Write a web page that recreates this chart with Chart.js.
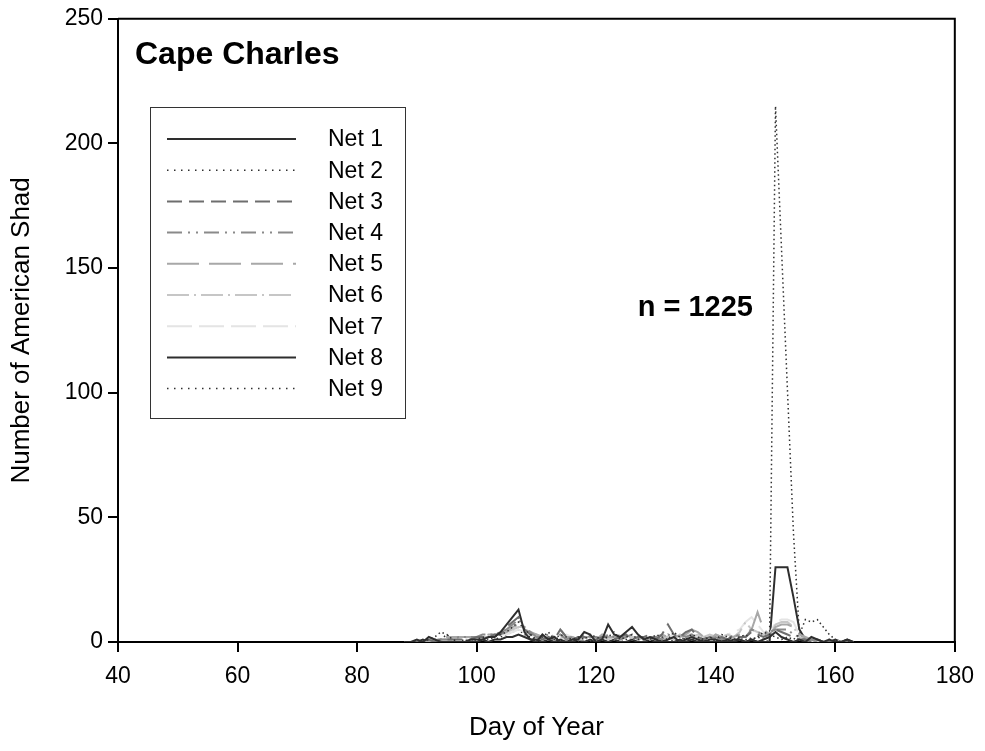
<!DOCTYPE html>
<html><head><meta charset="utf-8">
<script src="https://cdn.jsdelivr.net/npm/chart.js@4"></script>
<style>html,body{margin:0;padding:0;background:#fff;}#wrap{width:985px;height:751px;}</style>
</head><body><div id="wrap"><canvas id="c" width="985" height="751"></canvas></div>
<script>
// ---- data ----
const days = [88,89,90,91,92,93,94,95,96,97,98,99,100,101,102,103,104,105,106,107,108,109,110,111,112,113,114,115,116,117,118,119,120,121,122,123,124,125,126,127,128,129,130,131,132,133,134,135,136,137,138,139,140,141,142,143,144,145,146,147,148,149,150,151,152,153,154,155,156,157,158,159,160,161,162,163];
const xTicks = [40,60,80,100,120,140,160,180];
const yTicks = [0,50,100,150,200,250];
const netLabels = ["Net 1","Net 2","Net 3","Net 4","Net 5","Net 6","Net 7","Net 8","Net 9"];
const net1 = [0,0,1,0,2,1,0,0,0,0, 0,1,1,1,2,2,4,7,10,13, 4,1,0,3,1,2,0,0,1,1, 4,3,0,1,7,3,2,4,6,3, 1,2,1,0,1,2,0,1,2,1, 0,1,1,0,1,0,1,0,1,0, 1,2,4,2,1,0,1,0,2,1, 0,1,0,0,1,0];
const net2 = [0,0,0,0,1,2,4,3,1,0, 1,0,1,2,1,2,3,4,6,8, 5,3,1,2,4,1,3,2,1,2, 1,3,2,1,2,4,1,2,3,1, 2,1,3,2,1,4,2,1,3,2, 1,2,1,3,2,1,2,3,1,2, 4,3,2,1,2,1,3,9,8,9, 6,3,1,0,0,0];
const net3 = [0,0,0,0,1,0,1,1,1,1, 1,1,2,2,2,3,3,6,8,10, 5,3,2,1,2,1,5,2,1,2, 2,1,1,2,2,1,2,3,1,2, 2,3,1,3,7,3,2,4,5,2, 1,2,1,2,1,3,2,2,4,3, 2,3,5,4,3,2,1,1,0,1, 0,0,0,0,0,0];
const net4 = [0,0,0,1,0,1,1,1,1,2, 2,2,2,3,3,3,4,5,7,9, 6,4,2,2,3,2,3,1,2,1, 3,2,2,1,3,2,1,2,3,2, 1,2,2,1,3,2,3,2,3,1, 2,1,2,1,2,2,3,2,5,4, 3,4,5,5,5,3,2,1,1,0, 0,1,0,0,0,0];
const net5 = [0,0,0,0,0,1,1,2,2,2, 2,2,2,2,3,3,3,4,6,7, 5,4,3,2,1,3,5,2,2,1, 2,2,1,3,2,2,1,2,2,1, 2,1,2,3,2,3,2,3,5,4, 2,1,3,2,1,2,3,4,5,12, 5,3,6,7,7,6,3,2,1,1, 0,0,1,0,0,0];
const net6 = [0,0,0,0,0,0,1,1,1,1, 1,1,2,2,2,3,3,4,5,6, 6,4,3,2,1,2,2,1,2,1, 2,1,2,2,1,2,3,1,2,2, 1,2,1,2,2,1,3,2,2,3, 2,3,2,2,3,2,4,8,5,4, 3,2,7,8,8,6,2,1,1,0, 0,0,0,0,0,0];
const net7 = [0,0,0,0,0,0,0,1,1,1, 1,1,1,2,2,2,3,3,4,5, 4,3,2,2,1,2,2,3,2,1, 1,2,1,2,1,2,2,3,2,1, 2,1,2,1,2,3,2,4,3,2, 3,2,3,2,3,4,5,8,10,7, 4,3,8,9,9,8,3,1,0,0, 0,0,0,0,0,0];
const net8 = [0,0,0,1,0,0,1,0,0,0, 0,0,0,1,0,1,1,2,2,3, 2,1,1,0,1,0,1,0,0,1, 0,1,0,1,0,1,0,0,1,0, 0,1,0,1,0,0,1,0,1,0, 1,0,0,1,0,1,1,0,1,0, 0,0,30,30,30,18,5,1,0,1, 0,0,1,0,1,0];
const net9 = [0,0,0,0,0,0,1,3,1,0, 0,1,0,1,0,1,2,3,4,5, 3,2,1,0,2,1,2,1,1,0, 1,0,2,1,1,2,0,1,2,1, 0,1,2,1,0,1,2,1,1,2, 1,0,1,2,1,0,2,1,1,2, 1,0,215,158,101,44,3,1,0,0, 0,0,0,0,0,0];
const seriesValues = [net1,net2,net3,net4,net5,net6,net7,net8,net9];

// ---- styles ----
const colors = ["#2e2e2e","#303030","#6e6e6e","#8a8a8a","#a8a8a8","#c6c6c6","#e4e4e4","#2e2e2e","#303030"];
const widths = [2,1.5,2,2,2,2,2,2,1.5];
const dashes = [[],[1.5,3],[15,7],[15,5,2,5,2,5],[32,10],[22,5,2,5],[25,7],[],[1.5,3]];
const legendDashes = [[],[1.5,5.5],[15,7],[15,6,2,6,2,6],[32,10],[22,5,2,5],[25,7],[],[1.5,5.5]];
const FONT = "'Liberation Sans', Arial, Helvetica, sans-serif";

const datasets = seriesValues.map((vals,i)=>({
  label: netLabels[i],
  data: days.map((d,j)=>({x:d,y:vals[j]})),
  borderColor: colors[i],
  backgroundColor: colors[i],
  borderWidth: widths[i],
  borderDash: dashes[i],
  borderCapStyle: 'butt',
  pointRadius: 0,
  tension: 0,
  fill: false
}));

const decor = {
  id:'decor',
  afterDraw(chart){
    const ctx = chart.ctx, a = chart.chartArea;
    ctx.save();
    // top and right frame
    ctx.strokeStyle = '#000'; ctx.lineWidth = 2; ctx.setLineDash([]);
    ctx.beginPath();
    ctx.moveTo(a.left, a.top); ctx.lineTo(a.right, a.top); ctx.lineTo(a.right, a.bottom);
    ctx.stroke();
    // title
    ctx.fillStyle = '#000';
    ctx.font = "bold 32px " + FONT;
    ctx.textAlign = 'left'; ctx.textBaseline = 'alphabetic';
    ctx.fillText('Cape Charles', 135, 64);
    // annotation
    ctx.font = "bold 29px " + FONT;
    ctx.textAlign = 'right';
    ctx.fillText('n = 1225', 753, 316);
    // legend
    const lx = 150, ly = 107, lw = 255, lh = 311;
    ctx.fillStyle = '#fff';
    ctx.fillRect(lx, ly, lw, lh);
    ctx.strokeStyle = '#333'; ctx.lineWidth = 1;
    ctx.strokeRect(lx+0.5, ly+0.5, lw, lh);
    ctx.font = "23px " + FONT;
    ctx.textAlign = 'left'; ctx.textBaseline = 'middle';
    chart.data.datasets.forEach((ds,i)=>{
      const y = 139 + i*31.2;
      ctx.strokeStyle = colors[i];
      ctx.lineWidth = widths[i];
      ctx.lineCap = 'butt';
      ctx.setLineDash(legendDashes[i]);
      ctx.beginPath(); ctx.moveTo(167, y); ctx.lineTo(296, y); ctx.stroke();
      ctx.setLineDash([]);
      ctx.fillStyle = '#000';
      ctx.fillText(ds.label, 328, y+1);
    });
    ctx.restore();
  }
};

Chart.defaults.font.family = FONT;
Chart.defaults.color = '#000';

new Chart(document.getElementById('c'), {
  type: 'line',
  data: { datasets },
  options: {
    responsive: false,
    animation: false,
    devicePixelRatio: 1,
    layout: { padding: { left: 0, right: 25, top: 16, bottom: 0 } },
    plugins: { legend: { display: false }, tooltip: { enabled: false } },
    scales: {
      x: {
        type: 'linear', min: 40, max: 180,
        afterBuildTicks: s => { s.ticks = xTicks.map(v=>({value:v})); },
        afterFit: s => { s.height = 109; },
        ticks: { font: { size: 23 }, color: '#000', padding: 11, maxRotation: 0, autoSkip: false },
        grid: { drawOnChartArea: false, drawTicks: true, tickLength: 10, color: '#000', lineWidth: 2 },
        border: { display: true, color: '#000', width: 2 },
        title: { display: true, text: 'Day of Year', font: { size: 26 }, color: '#000', padding: { top: 0, bottom: 8 } }
      },
      y: {
        type: 'linear', min: 0, max: 250,
        afterBuildTicks: s => { s.ticks = yTicks.map(v=>({value:v})); },
        afterFit: s => { s.width = 118; },
        ticks: { font: { size: 23 }, color: '#000', padding: 5, autoSkip: false },
        grid: { drawOnChartArea: false, drawTicks: true, tickLength: 10, color: '#000', lineWidth: 2 },
        border: { display: true, color: '#000', width: 2 },
        title: { display: true, text: 'Number of American Shad', font: { size: 26 }, color: '#000', padding: { top: 6, bottom: 0 } }
      }
    }
  },
  plugins: [decor]
});
</script>
</body></html>
